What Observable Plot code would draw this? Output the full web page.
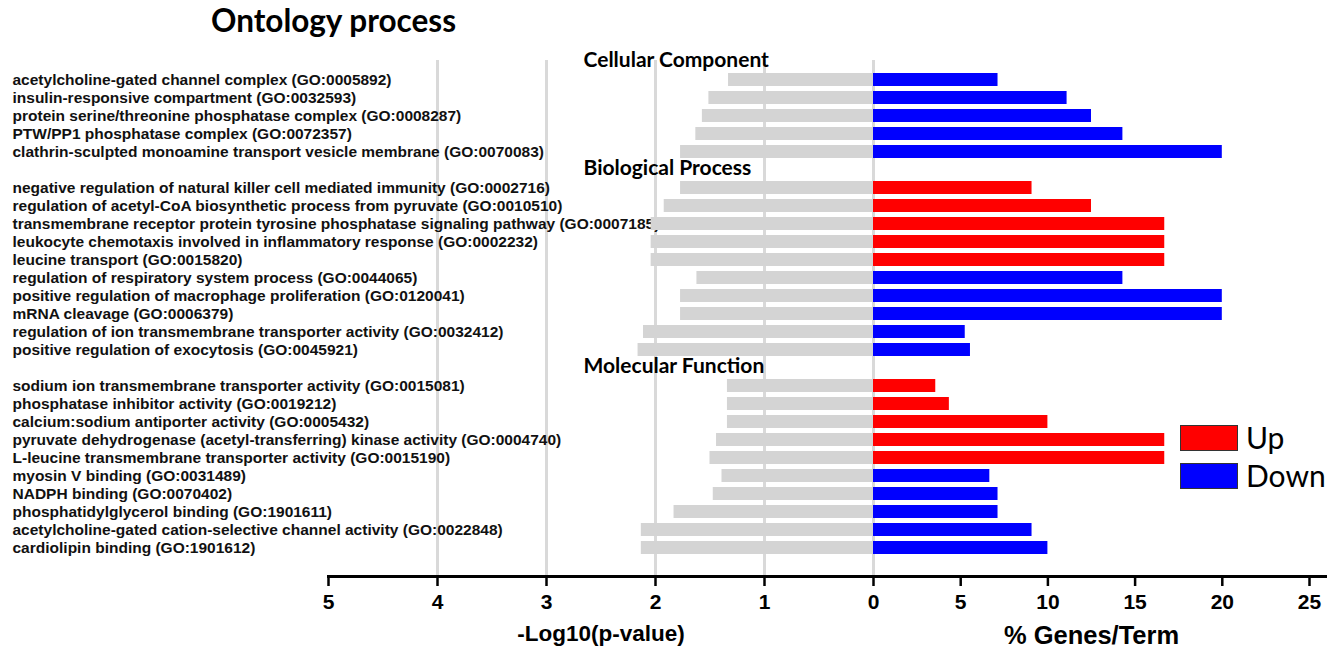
<!DOCTYPE html>
<html><head><meta charset="utf-8">
<script src="https://cdn.jsdelivr.net/npm/d3@7"></script>
<script src="https://cdn.jsdelivr.net/npm/@observablehq/plot@0.6"></script>
<style>
body{margin:0;background:#fff;}
#wrap{position:relative;width:1337px;height:652px;overflow:hidden;background:#fff;}
#title{position:absolute;left:211px;top:1px;height:44px;line-height:44px;font:bold 31.5px Lato,"Open Sans",sans-serif;color:#000;}
#chart{position:absolute;left:0;top:44px;}
.leg{position:absolute;left:1180px;width:56px;height:24px;border:1px solid #333;}
.legt{position:absolute;left:1246px;font:30px Lato,"Open Sans",sans-serif;color:#000;line-height:30px;}
</style></head><body>
<div id="wrap">
<div id="title">Ontology process</div>
<div id="chart"></div>
<div class="leg" style="top:425px;background:#ff0000"></div><div class="legt" style="top:422px">Up</div>
<div class="leg" style="top:463px;background:#0000ff"></div><div class="legt" style="top:460px">Down</div>
</div>
<script>
const sections = ["Cellular Component", "Biological Process", "Molecular Function"];

const ccTerms = [
  "acetylcholine-gated channel complex (GO:0005892)",
  "insulin-responsive compartment (GO:0032593)",
  "protein serine/threonine phosphatase complex (GO:0008287)",
  "PTW/PP1 phosphatase complex (GO:0072357)",
  "clathrin-sculpted monoamine transport vesicle membrane (GO:0070083)"
];
const ccLogP = [1.33, 1.51, 1.57, 1.63, 1.77];
const ccPct = [7.14, 11.1, 12.5, 14.3, 20.0];
const ccDir = ["Down", "Down", "Down", "Down", "Down"];

const bpTerms = [
  "negative regulation of natural killer cell mediated immunity (GO:0002716)",
  "regulation of acetyl-CoA biosynthetic process from pyruvate (GO:0010510)",
  "transmembrane receptor protein tyrosine phosphatase signaling pathway (GO:0007185)",
  "leukocyte chemotaxis involved in inflammatory response (GO:0002232)",
  "leucine transport (GO:0015820)",
  "regulation of respiratory system process (GO:0044065)",
  "positive regulation of macrophage proliferation (GO:0120041)",
  "mRNA cleavage (GO:0006379)",
  "regulation of ion transmembrane transporter activity (GO:0032412)",
  "positive regulation of exocytosis (GO:0045921)"
];
const bpLogP = [1.77, 1.92, 2.04, 2.04, 2.04, 1.62, 1.77, 1.77, 2.11, 2.16];
const bpPct = [9.09, 12.5, 16.7, 16.7, 16.7, 14.3, 20.0, 20.0, 5.26, 5.56];
const bpDir = ["Up", "Up", "Up", "Up", "Up", "Down", "Down", "Down", "Down", "Down"];

const mfTerms = [
  "sodium ion transmembrane transporter activity (GO:0015081)",
  "phosphatase inhibitor activity (GO:0019212)",
  "calcium:sodium antiporter activity (GO:0005432)",
  "pyruvate dehydrogenase (acetyl-transferring) kinase activity (GO:0004740)",
  "L-leucine transmembrane transporter activity (GO:0015190)",
  "myosin V binding (GO:0031489)",
  "NADPH binding (GO:0070402)",
  "phosphatidylglycerol binding (GO:1901611)",
  "acetylcholine-gated cation-selective channel activity (GO:0022848)",
  "cardiolipin binding (GO:1901612)"
];
const mfLogP = [1.34, 1.34, 1.34, 1.44, 1.50, 1.39, 1.47, 1.83, 2.13, 2.13];
const mfPct = [3.57, 4.35, 10.0, 16.7, 16.7, 6.67, 7.14, 7.14, 9.09, 10.0];
const mfDir = ["Up", "Up", "Up", "Up", "Up", "Down", "Down", "Down", "Down", "Down"];

const xTicks = [-5, -4, -3, -2, -1, 0, 5, 10, 15, 20, 25];
const xGrid = [-4, -3, -2, -1, 0];
const dirNames = ["Up", "Down"];
const dirColors = ["#ff0000", "#0000ff"];

const groups = [
  [ccTerms, ccLogP, ccPct, ccDir],
  [bpTerms, bpLogP, bpPct, bpDir],
  [mfTerms, mfLogP, mfPct, mfDir]
];
const rows = [];
const yDomain = [];
groups.forEach(([terms, lp, pc, dr], k) => {
  yDomain.push(sections[k]);
  terms.forEach((t, i) => {
    yDomain.push(t);
    rows.push({term: t, logp: lp[i], pct: pc[i], dir: dr[i]});
  });
});

const axisFont = "'Liberation Sans', Arial, sans-serif";

const chart = Plot.plot({
  width: 1337,
  height: 608,
  marginLeft: 328,
  marginRight: 12,
  marginTop: 16,
  marginBottom: 76,
  style: {fontFamily: "'Liberation Sans', Arial, sans-serif", background: "#fff", overflow: "visible"},
  x: {type: "linear", domain: [-5, 0, 25], range: [328, 873, 1309]},
  y: {type: "band", domain: yDomain, range: [8, 512], paddingInner: 0.28, paddingOuter: 0.14, axis: null},
  color: {domain: dirNames, range: dirColors},
  marks: [
    Plot.ruleX(xGrid, {stroke: "#d9d9d9", strokeWidth: 3}),
    Plot.text(rows, {y: "term", text: "term", frameAnchor: "left", dx: -316, textAnchor: "start", fontWeight: "bold", fontSize: 15.5, fontFamily: axisFont, fill: "#111"}),
    Plot.barX(rows, {y: "term", x1: 0, x2: d => -d.logp, fill: "#d4d4d4"}),
    Plot.barX(rows, {y: "term", x1: 0, x2: "pct", fill: "dir"}),
    Plot.text(sections, {y: d => d, text: d => d, x: 0, dx: -290, dy: -2, textAnchor: "start", fontWeight: "bold", fontSize: 21, fontFamily: "Lato, 'Open Sans', sans-serif", fill: "#000"}),
    Plot.frame({anchor: "bottom", strokeWidth: 3, stroke: "#000"}),
    Plot.axisX({ticks: xTicks, tickFormat: d => Math.abs(d), tickSize: 10, tickPadding: 8, strokeWidth: 2.5, fontSize: 21, fontWeight: "bold", fontFamily: axisFont, label: null, fill: "#000"}),
    Plot.text(["-Log10(p-value)"], {x: -2.5, text: d => d, frameAnchor: "bottom", dy: 64, fontSize: 22.5, fontWeight: "bold", fontFamily: axisFont, fill: "#000"}),
    Plot.text(["% Genes/Term"], {x: 12.5, text: d => d, frameAnchor: "bottom", dy: 67, fontSize: 25.5, fontWeight: "bold", fontFamily: axisFont, fill: "#000"})
  ]
});
document.getElementById("chart").appendChild(chart);
</script>
</body></html>
